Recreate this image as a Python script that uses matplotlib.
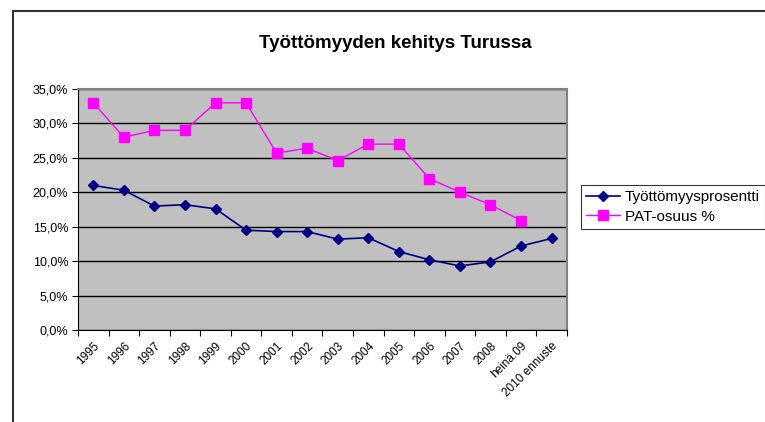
import matplotlib.pyplot as plt
from matplotlib.lines import Line2D
from matplotlib.ticker import FuncFormatter, FixedLocator

plt.rcParams['font.family'] = ['Liberation Sans', 'DejaVu Sans']

# data
categories = ['1995', '1996', '1997', '1998', '1999', '2000', '2001', '2002',
              '2003', '2004', '2005', '2006', '2007', '2008', 'heinä.09', '2010 ennuste']
tyottomyys = [21.0, 20.3, 18.0, 18.2, 17.6, 14.5, 14.3, 14.3,
              13.2, 13.4, 11.4, 10.2, 9.3, 9.9, 12.2, 13.3]
pat_osuus = [33.0, 28.0, 29.0, 29.0, 33.0, 33.0, 25.7, 26.4,
             24.6, 27.0, 27.0, 22.0, 20.0, 18.2, 15.9]

fig = plt.figure(figsize=(7.65, 4.22), dpi=100)
ax = fig.add_axes([0.102, 0.218, 0.639, 0.571])

# chart frame (top + left visible only)
fig.add_artist(Line2D([13/765, 13/765], [0, 1 - 11/422], color='#333333', lw=1.5))
fig.add_artist(Line2D([13/765, 1], [1 - 11/422, 1 - 11/422], color='#333333', lw=1.5))

ax.set_facecolor('#C0C0C0')
x = [i + 0.5 for i in range(len(categories))]
ax.plot(x, tyottomyys, color='#000080', marker='D', markersize=5, lw=1.2,
        label='Työttömyysprosentti')
ax.plot(x[:len(pat_osuus)], pat_osuus, color='#FF00FF', marker='s', markersize=7, lw=1.0,
        label='PAT-osuus %')

ax.set_xlim(0, len(categories))
ax.set_ylim(0, 35)
ax.set_yticks(range(0, 36, 5))
ax.yaxis.set_major_formatter(FuncFormatter(lambda v, p: f'{v:.1f}%'.replace('.', ',')))
ax.grid(axis='y', color='black', lw=1)
ax.set_axisbelow(True)

ax.xaxis.set_major_locator(FixedLocator(range(len(categories) + 1)))
ax.set_xticklabels([])
ax.set_xticks(x, minor=True)
ax.set_xticklabels(categories, minor=True, rotation=45, ha='right',
                   rotation_mode='anchor', fontsize=8.5)
ax.tick_params(axis='x', which='minor', length=0, pad=7)
ax.tick_params(axis='x', which='major', length=4, direction='out')
ax.tick_params(axis='y', length=4, labelsize=9, pad=3)

for s in ['top', 'right']:
    ax.spines[s].set_color('#808080')
    ax.spines[s].set_linewidth(1.5)
for s in ['left', 'bottom']:
    ax.spines[s].set_color('black')

fig.text(395/765, 1 - 44/422, 'Työttömyyden kehitys Turussa', ha='center', va='center',
         fontsize=13.5, fontweight='bold')

leg = fig.legend(loc='upper left', bbox_to_anchor=(581/765, 1 - 185/422), fontsize=11,
                 frameon=True, fancybox=False, edgecolor='black', handlelength=2.2,
                 borderpad=0.35, labelspacing=0.35, handletextpad=0.3, borderaxespad=0)
leg.get_frame().set_linewidth(0.8)

fig.savefig('out.png', dpi=100)
